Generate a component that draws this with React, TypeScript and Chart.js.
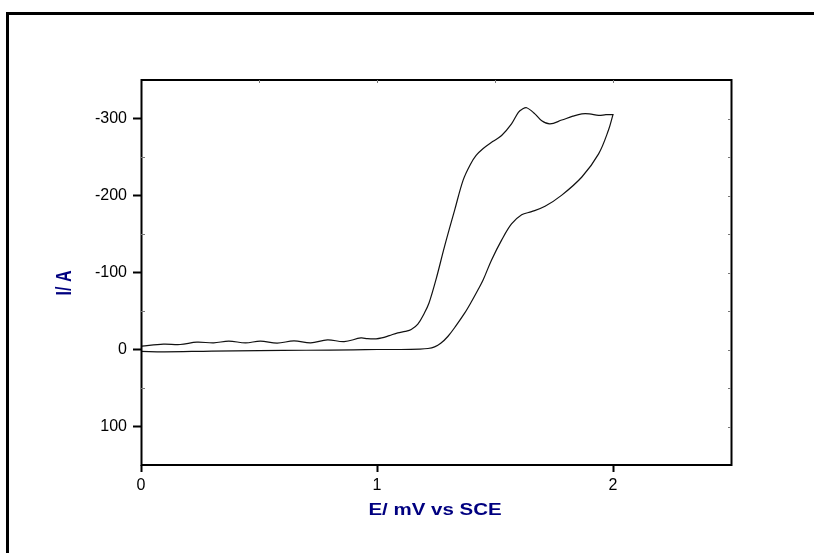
import { useEffect, useRef } from "react";
import { Chart, registerables } from "chart.js";
Chart.register(...registerables);

// Forward scan (lower branch), potential / current
const forwardE = [0, 0.1, 0.3, 0.5, 0.7, 0.9, 1.0, 1.1, 1.18, 1.216, 1.244, 1.27, 1.301, 1.335, 1.372, 1.4, 1.428, 1.45, 1.485, 1.528, 1.57, 1.613, 1.655, 1.712, 1.783, 1.868, 1.939, 1.981, 2.0];
const forwardI = [2.5, 3, 2, 1.5, 1, 0.5, 0, 0, -0.5, -1.3, -3.4, -8, -17.2, -31, -47.5, -62, -77.6, -90.6, -116, -142, -163, -175, -179, -186, -200.5, -224, -254, -285, -305];
// Reverse scan (upper branch)
const reverseE = [2.0, 1.97, 1.939, 1.9, 1.868, 1.83, 1.783, 1.733, 1.698, 1.669, 1.634, 1.615, 1.599, 1.57, 1.528, 1.49, 1.45, 1.42, 1.395, 1.365, 1.329, 1.286, 1.251, 1.22, 1.201, 1.173, 1.145, 1.12, 1.088, 1.052, 1.02, 0.996, 0.96, 0.932, 0.861, 0.79, 0.719, 0.648, 0.577, 0.506, 0.443, 0.372, 0.308, 0.237, 0.166, 0.095, 0.003];
const reverseI = [-305, -305, -304, -306, -306, -303, -298, -293, -297, -306, -314, -312, -308, -293, -278, -270, -261, -252, -240, -220, -181, -133.6, -92, -60, -47.5, -33, -26, -23.5, -21.6, -18, -15, -13.8, -14, -15, -10.3, -12.5, -8.6, -11.2, -8.2, -10.8, -8.6, -10.8, -8.6, -9.5, -6.5, -7, -4.3];

const xTicks = [0, 1, 2];
const yTicks = [-300, -200, -100, 0, 100];
const xMinor = [0.5, 1, 1.5, 2];
const yMinorLeft = [-250, -150, -50, 50];
const yMinorRight = [-300, -250, -200, -150, -100, -50, 0, 50, 100];
const xTitle = "E/ mV vs SCE";
const yTitle = "I/ A";

export default function App() {
  const ref = useRef<HTMLCanvasElement>(null);
  useEffect(() => {
    document.body.style.margin = "0";
    const pts = [
      ...forwardE.map((e, i) => ({ x: e, y: forwardI[i] })),
      ...reverseE.map((e, i) => ({ x: e, y: reverseI[i] })),
    ];
    const decor = {
      id: "decor",
      beforeDraw(chart: any) {
        const c = chart.ctx;
        c.save();
        c.fillStyle = "#fff";
        c.fillRect(0, 0, chart.width, chart.height);
        c.restore();
      },
      afterDraw(chart: any) {
        const c = chart.ctx;
        const a = chart.chartArea;
        const xs = chart.scales.x;
        const ys = chart.scales.y;
        c.save();
        // outer frame (top and left)
        c.fillStyle = "#000";
        c.fillRect(6, 12, 808, 3);
        c.fillRect(6, 12, 3, 541);
        // plot box
        c.strokeStyle = "#000";
        c.lineWidth = 2;
        c.strokeRect(a.left + 0.5, a.top, a.right - a.left, a.bottom - a.top);
        // minor ticks
        c.strokeStyle = "#777";
        c.lineWidth = 1;
        c.beginPath();
        xMinor.forEach((v) => {
          const px = Math.round(xs.getPixelForValue(v)) + 0.5;
          c.moveTo(px, a.top);
          c.lineTo(px, a.top + 3);
        });
        yMinorLeft.forEach((v) => {
          const py = Math.round(ys.getPixelForValue(v)) + 0.5;
          c.moveTo(a.left, py);
          c.lineTo(a.left + 4, py);
        });
        yMinorRight.forEach((v) => {
          const py = Math.round(ys.getPixelForValue(v)) + 0.5;
          c.moveTo(a.right, py);
          c.lineTo(a.right - 3, py);
        });
        c.stroke();
        // titles
        c.fillStyle = "#000080";
        c.font = 'bold 16px "Liberation Sans", Arial, sans-serif';
        c.textAlign = "center";
        c.textBaseline = "middle";
        c.save();
        c.translate(435, 511);
        c.scale(1.28, 1);
        c.fillText(xTitle, 0, 0);
        c.restore();
        c.save();
        c.translate(65, 283);
        c.scale(1.35, 1);
        c.rotate(-Math.PI / 2);
        c.fillText(yTitle, 0, 0);
        c.restore();
        c.restore();
      },
    };
    const tickFont = { family: '"Liberation Sans", Arial, sans-serif', size: 16 };
    const chart = new Chart(ref.current!, {
      type: "scatter",
      data: {
        datasets: [
          {
            data: pts,
            showLine: true,
            borderColor: "#111",
            borderWidth: 1.2,
            pointRadius: 0,
            tension: 0.35,
            fill: false,
          },
        ],
      },
      options: {
        animation: false,
        responsive: false,
        events: [],
        layout: { padding: { left: 0, top: 80, right: 83, bottom: 0 } },
        plugins: { legend: { display: false }, tooltip: { enabled: false }, title: { display: false } },
        scales: {
          x: {
            type: "linear",
            min: 0,
            max: 2.5,
            afterBuildTicks: (s: any) => {
              s.ticks = xTicks.map((v) => ({ value: v }));
            },
            afterFit: (s: any) => {
              s.height = 88;
            },
            grid: { display: true, drawOnChartArea: false, drawTicks: true, tickLength: 7, tickColor: "#000", tickWidth: 2 },
            border: { display: false },
            ticks: { font: tickFont, color: "#000", padding: 4, maxRotation: 0 },
          },
          y: {
            type: "linear",
            min: -350,
            max: 150,
            reverse: true,
            afterBuildTicks: (s: any) => {
              s.ticks = yTicks.map((v) => ({ value: v }));
            },
            afterFit: (s: any) => {
              s.width = 141;
            },
            grid: { display: true, drawOnChartArea: false, drawTicks: true, tickLength: 8, tickColor: "#000", tickWidth: 2 },
            border: { display: false },
            ticks: { font: tickFont, color: "#000", padding: 6 },
          },
        },
      },
      plugins: [decor],
    });
    return () => chart.destroy();
  }, []);
  return <canvas ref={ref} width={814} height={553} style={{ display: "block" }} />;
}
